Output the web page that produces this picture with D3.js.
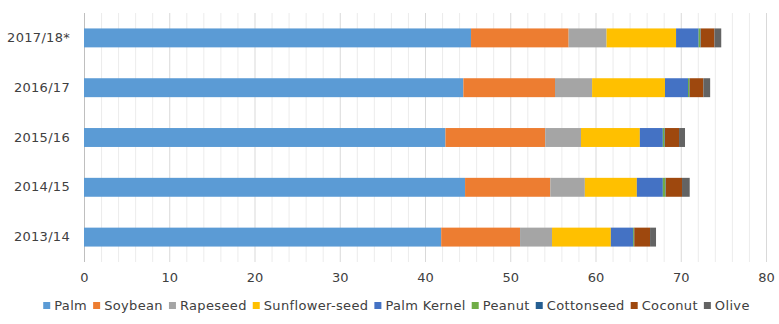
<!DOCTYPE html>
<html><head><meta charset="utf-8">
<script src="https://cdn.jsdelivr.net/npm/d3@7"></script>
<style>body{margin:0;background:#fff;} text{font-family:"DejaVu Sans",Verdana,sans-serif;fill:#404040;}</style>
</head><body><svg id="c" width="779" height="324"></svg>
<script>
const years = ["2017/18*","2016/17","2015/16","2014/15","2013/14"];
const seriesNames = ["Palm","Soybean","Rapeseed","Sunflower-seed","Palm Kernel","Peanut","Cottonseed","Coconut","Olive"];
const colors = ["#5B9BD5","#ED7D31","#A5A5A5","#FFC000","#4472C4","#70AD47","#255E91","#9E480E","#636363"];
const palm       = [45.4, 44.5, 42.4, 44.7, 41.9];
const soybean    = [11.45,10.75,11.7, 10.0, 9.25];
const rapeseed   = [4.45, 4.35, 4.2,  4.05, 3.75];
const sunflower  = [8.15, 8.55, 6.9,  6.1,  6.9];
const palmKernel = [2.65, 2.7,  2.7,  3.05, 2.6];
const peanut     = [0.2,  0.15, 0.2,  0.3,  0.1];
const cottonseed = [0.05, 0.05, 0.05, 0.05, 0.05];
const coconut    = [1.6,  1.6,  1.65, 1.9,  1.85];
const olive      = [0.8,  0.8,  0.7,  0.9,  0.7];
const xTicks = [0,10,20,30,40,50,60,70,80];

const values = [palm,soybean,rapeseed,sunflower,palmKernel,peanut,cottonseed,coconut,olive];
const rows = years.map((y,i)=>{const r={year:y}; seriesNames.forEach((s,k)=>r[s]=values[k][i]); return r;});
const stack = d3.stack().keys(seriesNames)(rows);

const svg = d3.select("#c");
const m = {left:84, right:13, top:13, bottom:62};
const W = 779, H = 324;
const x = d3.scaleLinear().domain([0,80]).range([m.left, W-m.right]);
const y = d3.scaleBand().domain(years).range([m.top, H-m.bottom]).paddingInner(0.62).paddingOuter(0.31);

const g = svg.append("g");
g.selectAll("line.minor").data(d3.range(0,81,2).filter(v=>v%10!==0)).join("line")
  .attr("x1",d=>x(d)+0.5).attr("x2",d=>x(d)+0.5).attr("y1",m.top).attr("y2",H-m.bottom)
  .attr("stroke","#ececec").attr("stroke-width",1);
g.selectAll("line.major").data(xTicks).join("line")
  .attr("x1",d=>x(d)+0.5).attr("x2",d=>x(d)+0.5).attr("y1",m.top).attr("y2",H-m.bottom)
  .attr("stroke",d=>d===0?"#bfbfbf":"#d9d9d9").attr("stroke-width",1);

svg.append("g").selectAll("g").data(stack).join("g")
  .attr("fill",(d,i)=>colors[i])
  .selectAll("rect").data(d=>d).join("rect")
  .attr("x",d=>x(d[0])).attr("width",d=>x(d[1])-x(d[0]))
  .attr("y",d=>y(d.data.year)).attr("height",y.bandwidth());

const xa = svg.append("g").attr("transform",`translate(0,${H-m.bottom})`)
  .call(d3.axisBottom(x).tickValues(xTicks).tickSize(0).tickPadding(11));
xa.select(".domain").remove();
xa.selectAll("text").style("font-size","13px").style("font-family","DejaVu Sans, Verdana, sans-serif").attr("fill","#404040");

const ya = svg.append("g").attr("transform",`translate(${m.left},0)`)
  .call(d3.axisLeft(y).tickSize(0).tickPadding(14));
ya.select(".domain").remove();
ya.selectAll("text").style("font-size","13px").style("letter-spacing","0.3px").style("font-family","DejaVu Sans, Verdana, sans-serif").attr("fill","#404040");

const leg = svg.append("g");
let cx = 0;
seriesNames.forEach((s,i)=>{
  const it = leg.append("g");
  it.append("rect").attr("x",0).attr("y",-8).attr("width",7).attr("height",7).attr("fill",colors[i]);
  const t = it.append("text").attr("x",11).attr("y",0).style("font-size","13px").style("letter-spacing","0.35px").text(s);
  const w = 11 + t.node().getComputedTextLength();
  it.attr("transform",`translate(${cx},0)`);
  cx += w + 6;
});
const total = cx - 6;
leg.attr("transform",`translate(${(W-total)/2 + 7},${310})`);
</script></body></html>
